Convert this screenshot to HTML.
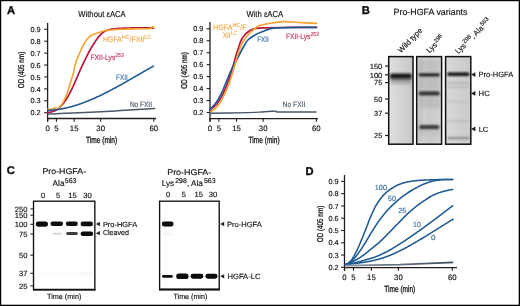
<!DOCTYPE html>
<html><head><meta charset="utf-8"><style>
html,body{margin:0;padding:0;background:#fff;}
svg{display:block;font-family:"Liberation Sans", sans-serif;filter:blur(0.25px);} text{text-rendering:geometricPrecision;stroke-linejoin:round}
</style></head><body>
<svg width="520" height="306" viewBox="0 0 520 306" font-family='"Liberation Sans", sans-serif'>
<rect x="0" y="0" width="520" height="306" fill="#fff"/>
<g opacity="0.999">
<text x="6.90" y="13.98" font-size="11.2" fill="#111" text-anchor="start" font-weight="bold" stroke="#000" stroke-width="0.35">A</text>
<line x1="47.6" y1="22.9" x2="47.6" y2="121.7" stroke="#231f20" stroke-width="1.3"/>
<line x1="44.2" y1="29.299999999999997" x2="47.6" y2="29.299999999999997" stroke="#231f20" stroke-width="1.1"/>
<text x="40.60" y="31.93" font-size="7.3" fill="#111" text-anchor="end" font-weight="normal" stroke="#111" stroke-width="0.15">0.9</text>
<line x1="44.2" y1="41.214285714285694" x2="47.6" y2="41.214285714285694" stroke="#231f20" stroke-width="1.1"/>
<text x="40.60" y="43.84" font-size="7.3" fill="#111" text-anchor="end" font-weight="normal" stroke="#111" stroke-width="0.15">0.8</text>
<line x1="44.2" y1="53.12857142857143" x2="47.6" y2="53.12857142857143" stroke="#231f20" stroke-width="1.1"/>
<text x="40.60" y="55.76" font-size="7.3" fill="#111" text-anchor="end" font-weight="normal" stroke="#111" stroke-width="0.15">0.7</text>
<line x1="44.2" y1="65.04285714285714" x2="47.6" y2="65.04285714285714" stroke="#231f20" stroke-width="1.1"/>
<text x="40.60" y="67.67" font-size="7.3" fill="#111" text-anchor="end" font-weight="normal" stroke="#111" stroke-width="0.15">0.6</text>
<line x1="44.2" y1="76.95714285714286" x2="47.6" y2="76.95714285714286" stroke="#231f20" stroke-width="1.1"/>
<text x="40.60" y="79.59" font-size="7.3" fill="#111" text-anchor="end" font-weight="normal" stroke="#111" stroke-width="0.15">0.5</text>
<line x1="44.2" y1="88.87142857142857" x2="47.6" y2="88.87142857142857" stroke="#231f20" stroke-width="1.1"/>
<text x="40.60" y="91.50" font-size="7.3" fill="#111" text-anchor="end" font-weight="normal" stroke="#111" stroke-width="0.15">0.4</text>
<line x1="44.2" y1="100.78571428571429" x2="47.6" y2="100.78571428571429" stroke="#231f20" stroke-width="1.1"/>
<text x="40.60" y="103.41" font-size="7.3" fill="#111" text-anchor="end" font-weight="normal" stroke="#111" stroke-width="0.15">0.3</text>
<line x1="44.2" y1="112.7" x2="47.6" y2="112.7" stroke="#231f20" stroke-width="1.1"/>
<text x="40.60" y="115.33" font-size="7.3" fill="#111" text-anchor="end" font-weight="normal" stroke="#111" stroke-width="0.15">0.2</text>
<line x1="47.1" y1="118.5" x2="156" y2="118.5" stroke="#231f20" stroke-width="1.3"/>
<line x1="47.6" y1="118.5" x2="47.6" y2="121.7" stroke="#231f20" stroke-width="1.1"/>
<text x="47.60" y="130.71" font-size="7.8" fill="#111" text-anchor="middle" font-weight="normal" stroke="#111" stroke-width="0.15">0</text>
<line x1="56.45" y1="118.5" x2="56.45" y2="121.7" stroke="#231f20" stroke-width="1.1"/>
<text x="56.45" y="130.71" font-size="7.8" fill="#111" text-anchor="middle" font-weight="normal" stroke="#111" stroke-width="0.15">5</text>
<line x1="74.15" y1="118.5" x2="74.15" y2="121.7" stroke="#231f20" stroke-width="1.1"/>
<text x="74.15" y="130.71" font-size="7.8" fill="#111" text-anchor="middle" font-weight="normal" stroke="#111" stroke-width="0.15">15</text>
<line x1="100.7" y1="118.5" x2="100.7" y2="121.7" stroke="#231f20" stroke-width="1.1"/>
<text x="100.70" y="130.71" font-size="7.8" fill="#111" text-anchor="middle" font-weight="normal" stroke="#111" stroke-width="0.15">30</text>
<line x1="153.8" y1="118.5" x2="153.8" y2="121.7" stroke="#231f20" stroke-width="1.1"/>
<text x="153.80" y="130.71" font-size="7.8" fill="#111" text-anchor="middle" font-weight="normal" stroke="#111" stroke-width="0.15">60</text>
<text x="101.60" y="143.04" font-size="9.0" fill="#111" text-anchor="middle" font-weight="normal" textLength="31" lengthAdjust="spacingAndGlyphs" stroke="#111" stroke-width="0.3">Time (min)</text>
<g transform="translate(20.6,70.0) rotate(-90)">
<text x="0.00" y="2.99" font-size="8.3" fill="#111" text-anchor="middle" font-weight="normal" textLength="36.5" lengthAdjust="spacingAndGlyphs" stroke="#111" stroke-width="0.3">OD (405 nm)</text>
</g>
<text x="102.00" y="16.90" font-size="8.6" fill="#111" text-anchor="middle" font-weight="normal" textLength="47.5" lengthAdjust="spacingAndGlyphs"  stroke="#111" stroke-width="0.15">Without εACA</text>
<path d="M47.90,112.40 L48.30,112.39 L48.70,112.37 L49.10,112.33 L49.50,112.28 L49.90,112.22 L50.30,112.15 L50.70,112.07 L51.10,111.97 L51.50,111.87 L51.90,111.76 L52.30,111.64 L52.70,111.52 L53.10,111.39 L53.50,111.26 L53.90,111.12 L54.30,110.98 L54.70,110.84 L55.10,110.68 L55.50,110.50 L55.90,110.28 L56.30,110.04 L56.70,109.78 L57.10,109.49 L57.50,109.18 L57.90,108.86 L58.30,108.52 L58.70,108.17 L59.10,107.81 L59.50,107.44 L59.90,107.06 L60.30,106.69 L60.70,106.31 L61.10,105.91 L61.50,105.50 L61.90,105.06 L62.30,104.61 L62.70,104.13 L63.10,103.65 L63.50,103.14 L63.90,102.62 L64.30,102.09 L64.70,101.55 L65.10,100.99 L65.50,100.42 L65.90,99.84 L66.30,99.25 L66.70,98.64 L67.10,98.00 L67.50,97.34 L67.90,96.65 L68.30,95.94 L68.70,95.22 L69.10,94.47 L69.50,93.72 L69.90,92.95 L70.30,92.17 L70.70,91.39 L71.10,90.60 L71.50,89.80 L71.90,88.97 L72.30,88.12 L72.70,87.26 L73.10,86.38 L73.50,85.49 L73.90,84.59 L74.30,83.68 L74.70,82.77 L75.10,81.85 L75.50,80.94 L75.90,80.03 L76.30,79.12 L76.70,78.19 L77.10,77.25 L77.50,76.31 L77.90,75.36 L78.30,74.42 L78.70,73.47 L79.10,72.54 L79.50,71.62 L79.90,70.72 L80.30,69.84 L80.70,68.97 L81.10,68.10 L81.50,67.25 L81.90,66.40 L82.30,65.56 L82.70,64.72 L83.10,63.89 L83.50,63.06 L83.90,62.24 L84.30,61.42 L84.70,60.59 L85.10,59.77 L85.50,58.94 L85.90,58.11 L86.30,57.29 L86.70,56.46 L87.10,55.65 L87.50,54.84 L87.90,54.04 L88.30,53.25 L88.70,52.49 L89.10,51.73 L89.50,51.00 L89.90,50.28 L90.30,49.57 L90.70,48.86 L91.10,48.16 L91.50,47.47 L91.90,46.78 L92.30,46.11 L92.70,45.44 L93.10,44.79 L93.50,44.15 L93.90,43.51 L94.30,42.89 L94.70,42.28 L95.10,41.69 L95.50,41.11 L95.90,40.54 L96.30,39.98 L96.70,39.44 L97.10,38.89 L97.50,38.36 L97.90,37.84 L98.30,37.33 L98.70,36.83 L99.10,36.35 L99.50,35.88 L99.90,35.43 L100.30,35.00 L100.70,34.60 L101.10,34.21 L101.50,33.82 L101.90,33.44 L102.30,33.07 L102.70,32.72 L103.10,32.38 L103.50,32.08 L103.90,31.80 L104.30,31.56 L104.70,31.35 L105.10,31.17 L105.50,30.99 L105.90,30.81 L106.30,30.65 L106.70,30.49 L107.10,30.34 L107.50,30.20 L107.90,30.06 L108.30,29.93 L108.70,29.81 L109.10,29.70 L109.50,29.60 L109.90,29.50 L110.30,29.41 L110.70,29.33 L111.10,29.26 L111.50,29.20 L111.90,29.14 L112.30,29.09 L112.70,29.04 L113.10,28.98 L113.50,28.94 L113.90,28.89 L114.30,28.84 L114.70,28.80 L115.10,28.75 L115.50,28.71 L115.90,28.67 L116.30,28.64 L116.70,28.60 L117.10,28.56 L117.50,28.53 L117.90,28.50 L118.30,28.47 L118.70,28.44 L119.10,28.41 L119.50,28.38 L119.90,28.36 L120.30,28.33 L120.70,28.31 L121.10,28.29 L121.50,28.27 L121.90,28.25 L122.30,28.23 L122.70,28.21 L123.10,28.20 L123.50,28.18 L123.90,28.17 L124.30,28.15 L124.70,28.14 L125.10,28.12 L125.50,28.11 L125.90,28.10 L126.30,28.08 L126.70,28.07 L127.10,28.06 L127.50,28.05 L127.90,28.03 L128.30,28.02 L128.70,28.01 L129.10,28.00 L129.50,27.99 L129.90,27.98 L130.30,27.98 L130.70,27.97 L131.10,27.96 L131.50,27.95 L131.90,27.94 L132.30,27.94 L132.70,27.93 L133.10,27.92 L133.50,27.92 L133.90,27.91 L134.30,27.90 L134.70,27.90 L135.10,27.89 L135.50,27.89 L135.90,27.88 L136.30,27.88 L136.70,27.87 L137.10,27.87 L137.50,27.86 L137.90,27.86 L138.30,27.85 L138.70,27.85 L139.10,27.84 L139.50,27.84 L139.90,27.84 L140.30,27.83 L140.70,27.83 L141.10,27.82 L141.50,27.82 L141.90,27.82 L142.30,27.82 L142.70,27.81 L143.10,27.81 L143.50,27.81 L143.90,27.81 L144.30,27.80 L144.70,27.80 L145.10,27.80 L145.50,27.80 L145.90,27.80 L146.30,27.80 L146.70,27.80 L147.10,27.81 L147.50,27.81 L147.90,27.82 L148.30,27.83 L148.70,27.84 L149.10,27.86 L149.50,27.88 L149.90,27.89 L150.30,27.91 L150.70,27.93 L151.10,27.95 L151.50,27.97 L151.90,28.00 L152.30,28.02 L152.70,28.04 L153.10,28.06 L153.50,28.09" fill="none" stroke="#b8173f" stroke-width="1.7" stroke-linejoin="round" stroke-linecap="round"/>
<path d="M47.90,108.90 C48.50,108.95 50.35,109.37 51.50,109.20 C52.65,109.03 53.72,107.95 54.80,107.90 C55.88,107.85 56.92,109.37 58.00,108.90 C59.08,108.43 60.20,106.68 61.30,105.10 C62.40,103.52 63.50,101.72 64.60,99.40 C65.70,97.08 66.95,93.93 67.90,91.20 C68.85,88.47 69.48,85.72 70.30,83.00 C71.12,80.28 71.78,78.60 72.80,74.90 C73.82,71.20 74.98,65.05 76.40,60.80 C77.82,56.55 79.67,52.80 81.30,49.40 C82.93,46.00 84.57,42.72 86.20,40.40 C87.83,38.08 89.18,36.72 91.10,35.50 C93.02,34.28 95.38,33.92 97.70,33.10 C100.02,32.28 101.15,31.25 105.00,30.60 C108.85,29.95 114.97,29.50 120.80,29.20 C126.63,28.90 135.13,28.90 140.00,28.80 C144.87,28.70 147.92,28.98 150.00,28.60 C152.08,28.22 151.83,26.60 152.50,26.50 C153.17,26.40 153.75,27.75 154.00,28.00" fill="none" stroke="#f7a12f" stroke-width="1.6" stroke-linejoin="round" stroke-linecap="round" />
<path d="M47.90,110.34 L48.40,110.33 L48.90,110.31 L49.40,110.29 L49.90,110.27 L50.40,110.24 L50.90,110.21 L51.40,110.18 L51.90,110.14 L52.40,110.10 L52.90,110.06 L53.40,110.02 L53.90,109.97 L54.40,109.92 L54.90,109.87 L55.40,109.81 L55.90,109.75 L56.40,109.69 L56.90,109.63 L57.40,109.56 L57.90,109.49 L58.40,109.42 L58.90,109.35 L59.40,109.27 L59.90,109.19 L60.40,109.11 L60.90,109.02 L61.40,108.93 L61.90,108.84 L62.40,108.75 L62.90,108.65 L63.40,108.56 L63.90,108.46 L64.40,108.35 L64.90,108.25 L65.40,108.14 L65.90,108.03 L66.40,107.91 L66.90,107.80 L67.40,107.68 L67.90,107.56 L68.40,107.44 L68.90,107.31 L69.40,107.19 L69.90,107.06 L70.40,106.92 L70.90,106.79 L71.40,106.65 L71.90,106.51 L72.40,106.37 L72.90,106.23 L73.40,106.08 L73.90,105.94 L74.40,105.79 L74.90,105.63 L75.40,105.48 L75.90,105.32 L76.40,105.17 L76.90,105.01 L77.40,104.84 L77.90,104.68 L78.40,104.51 L78.90,104.34 L79.40,104.17 L79.90,104.00 L80.40,103.82 L80.90,103.65 L81.40,103.47 L81.90,103.29 L82.40,103.11 L82.90,102.92 L83.40,102.74 L83.90,102.55 L84.40,102.36 L84.90,102.17 L85.40,101.97 L85.90,101.78 L86.40,101.58 L86.90,101.38 L87.40,101.18 L87.90,100.98 L88.40,100.78 L88.90,100.57 L89.40,100.36 L89.90,100.16 L90.40,99.95 L90.90,99.73 L91.40,99.52 L91.90,99.30 L92.40,99.09 L92.90,98.87 L93.40,98.65 L93.90,98.43 L94.40,98.21 L94.90,97.98 L95.40,97.75 L95.90,97.53 L96.40,97.30 L96.90,97.07 L97.40,96.84 L97.90,96.60 L98.40,96.37 L98.90,96.13 L99.40,95.90 L99.90,95.66 L100.40,95.42 L100.90,95.18 L101.40,94.94 L101.90,94.69 L102.40,94.45 L102.90,94.20 L103.40,93.96 L103.90,93.71 L104.40,93.46 L104.90,93.21 L105.40,92.96 L105.90,92.71 L106.40,92.45 L106.90,92.20 L107.40,91.94 L107.90,91.68 L108.40,91.43 L108.90,91.17 L109.40,90.91 L109.90,90.65 L110.40,90.39 L110.90,90.12 L111.40,89.86 L111.90,89.59 L112.40,89.33 L112.90,89.06 L113.40,88.80 L113.90,88.53 L114.40,88.26 L114.90,87.99 L115.40,87.72 L115.90,87.45 L116.40,87.18 L116.90,86.90 L117.40,86.63 L117.90,86.36 L118.40,86.08 L118.90,85.81 L119.40,85.53 L119.90,85.25 L120.40,84.98 L120.90,84.70 L121.40,84.42 L121.90,84.14 L122.40,83.86 L122.90,83.58 L123.40,83.30 L123.90,83.02 L124.40,82.74 L124.90,82.45 L125.40,82.17 L125.90,81.89 L126.40,81.61 L126.90,81.32 L127.40,81.04 L127.90,80.75 L128.40,80.47 L128.90,80.18 L129.40,79.90 L129.90,79.61 L130.40,79.33 L130.90,79.04 L131.40,78.75 L131.90,78.47 L132.40,78.18 L132.90,77.89 L133.40,77.60 L133.90,77.32 L134.40,77.03 L134.90,76.74 L135.40,76.45 L135.90,76.16 L136.40,75.88 L136.90,75.59 L137.40,75.30 L137.90,75.01 L138.40,74.72 L138.90,74.44 L139.40,74.15 L139.90,73.86 L140.40,73.57 L140.90,73.28 L141.40,73.00 L141.90,72.71 L142.40,72.42 L142.90,72.13 L143.40,71.84 L143.90,71.56 L144.40,71.27 L144.90,70.98 L145.40,70.70 L145.90,70.41 L146.40,70.12 L146.90,69.84 L147.40,69.55 L147.90,69.27 L148.40,68.98 L148.90,68.70 L149.40,68.41 L149.90,68.13 L150.40,67.85 L150.90,67.56 L151.40,67.28 L151.90,67.00 L152.40,66.72 L152.90,66.44 L153.40,66.16" fill="none" stroke="#1f5b95" stroke-width="1.6" stroke-linejoin="round" stroke-linecap="round"/>
<path d="M47.90,113.90 C49.92,113.85 48.82,114.10 60.00,113.60 C71.18,113.10 99.23,111.73 115.00,110.90 C130.77,110.07 148.00,108.98 154.60,108.60" fill="none" stroke="#4a5869" stroke-width="1.5" stroke-linejoin="round" stroke-linecap="round" />
<g transform="translate(103.00,41.91) scale(0.8927,1)"><text x="0" y="0" font-size="7.8" fill="#f6a340" stroke="#f6a340" stroke-width="0.1"><tspan font-size="7.8" dy="0.00">HGFA</tspan><tspan font-size="5.9" dx="0.0" dy="-3.00">HC</tspan><tspan font-size="7.8" dy="3.00">/FXII</tspan><tspan font-size="5.9" dx="0.0" dy="-3.00">LC</tspan></text></g>
<g transform="translate(90.40,59.51) scale(0.8655,1)"><text x="0" y="0" font-size="7.8" fill="#bf2a50" stroke="#bf2a50" stroke-width="0.1"><tspan font-size="7.8" dy="0.00">FXII-Lys</tspan><tspan font-size="5.9" dx="0.0" dy="-3.00">253</tspan></text></g>
<text x="116.00" y="79.56" font-size="7.8" fill="#3a70a8" text-anchor="start" font-weight="normal" textLength="11.8" lengthAdjust="spacingAndGlyphs"  stroke="#3a70a8" stroke-width="0.15">FXII</text>
<text x="129.90" y="106.51" font-size="7.8" fill="#4a586a" text-anchor="start" font-weight="normal" textLength="22.1" lengthAdjust="spacingAndGlyphs"  stroke="#4a586a" stroke-width="0.15">No FXII</text>
<line x1="210" y1="21.9" x2="210" y2="121.8" stroke="#231f20" stroke-width="1.3"/>
<line x1="206.6" y1="28.799999999999997" x2="210" y2="28.799999999999997" stroke="#231f20" stroke-width="1.1"/>
<text x="203.30" y="31.43" font-size="7.3" fill="#111" text-anchor="end" font-weight="normal" stroke="#111" stroke-width="0.15">0.9</text>
<line x1="206.6" y1="40.75714285714284" x2="210" y2="40.75714285714284" stroke="#231f20" stroke-width="1.1"/>
<text x="203.30" y="43.39" font-size="7.3" fill="#111" text-anchor="end" font-weight="normal" stroke="#111" stroke-width="0.15">0.8</text>
<line x1="206.6" y1="52.714285714285715" x2="210" y2="52.714285714285715" stroke="#231f20" stroke-width="1.1"/>
<text x="203.30" y="55.34" font-size="7.3" fill="#111" text-anchor="end" font-weight="normal" stroke="#111" stroke-width="0.15">0.7</text>
<line x1="206.6" y1="64.67142857142858" x2="210" y2="64.67142857142858" stroke="#231f20" stroke-width="1.1"/>
<text x="203.30" y="67.30" font-size="7.3" fill="#111" text-anchor="end" font-weight="normal" stroke="#111" stroke-width="0.15">0.6</text>
<line x1="206.6" y1="76.62857142857143" x2="210" y2="76.62857142857143" stroke="#231f20" stroke-width="1.1"/>
<text x="203.30" y="79.26" font-size="7.3" fill="#111" text-anchor="end" font-weight="normal" stroke="#111" stroke-width="0.15">0.5</text>
<line x1="206.6" y1="88.58571428571429" x2="210" y2="88.58571428571429" stroke="#231f20" stroke-width="1.1"/>
<text x="203.30" y="91.21" font-size="7.3" fill="#111" text-anchor="end" font-weight="normal" stroke="#111" stroke-width="0.15">0.4</text>
<line x1="206.6" y1="100.54285714285714" x2="210" y2="100.54285714285714" stroke="#231f20" stroke-width="1.1"/>
<text x="203.30" y="103.17" font-size="7.3" fill="#111" text-anchor="end" font-weight="normal" stroke="#111" stroke-width="0.15">0.3</text>
<line x1="206.6" y1="112.5" x2="210" y2="112.5" stroke="#231f20" stroke-width="1.1"/>
<text x="203.30" y="115.13" font-size="7.3" fill="#111" text-anchor="end" font-weight="normal" stroke="#111" stroke-width="0.15">0.2</text>
<line x1="209.5" y1="118.6" x2="318" y2="118.6" stroke="#231f20" stroke-width="1.3"/>
<line x1="210.0" y1="118.6" x2="210.0" y2="121.8" stroke="#231f20" stroke-width="1.1"/>
<text x="210.00" y="130.81" font-size="7.8" fill="#111" text-anchor="middle" font-weight="normal" stroke="#111" stroke-width="0.15">0</text>
<line x1="218.85833333333332" y1="118.6" x2="218.85833333333332" y2="121.8" stroke="#231f20" stroke-width="1.1"/>
<text x="218.86" y="130.81" font-size="7.8" fill="#111" text-anchor="middle" font-weight="normal" stroke="#111" stroke-width="0.15">5</text>
<line x1="236.575" y1="118.6" x2="236.575" y2="121.8" stroke="#231f20" stroke-width="1.1"/>
<text x="236.57" y="130.81" font-size="7.8" fill="#111" text-anchor="middle" font-weight="normal" stroke="#111" stroke-width="0.15">15</text>
<line x1="263.15" y1="118.6" x2="263.15" y2="121.8" stroke="#231f20" stroke-width="1.1"/>
<text x="263.15" y="130.81" font-size="7.8" fill="#111" text-anchor="middle" font-weight="normal" stroke="#111" stroke-width="0.15">30</text>
<line x1="316.3" y1="118.6" x2="316.3" y2="121.8" stroke="#231f20" stroke-width="1.1"/>
<text x="316.30" y="130.81" font-size="7.8" fill="#111" text-anchor="middle" font-weight="normal" stroke="#111" stroke-width="0.15">60</text>
<text x="264.10" y="143.04" font-size="9.0" fill="#111" text-anchor="middle" font-weight="normal" textLength="31" lengthAdjust="spacingAndGlyphs" stroke="#111" stroke-width="0.3">Time (min)</text>
<g transform="translate(183.8,70.4) rotate(-90)">
<text x="0.00" y="2.99" font-size="8.3" fill="#111" text-anchor="middle" font-weight="normal" textLength="36.5" lengthAdjust="spacingAndGlyphs" stroke="#111" stroke-width="0.3">OD (405 nm)</text>
</g>
<text x="264.80" y="16.90" font-size="8.6" fill="#111" text-anchor="middle" font-weight="normal" textLength="36.8" lengthAdjust="spacingAndGlyphs"  stroke="#111" stroke-width="0.15">With εACA</text>
<path d="M209.80,110.20 C211.02,109.13 214.97,106.38 217.10,103.80 C219.23,101.22 220.77,98.35 222.60,94.70 C224.43,91.05 226.35,86.68 228.10,81.90 C229.85,77.12 231.77,70.48 233.10,66.00 C234.43,61.52 235.05,58.50 236.10,55.00 C237.15,51.50 238.53,47.50 239.40,45.00 C240.27,42.50 240.43,41.67 241.30,40.00 C242.17,38.33 243.50,36.33 244.60,35.00 C245.70,33.67 246.67,32.92 247.90,32.00 C249.13,31.08 250.65,30.12 252.00,29.50 C253.35,28.88 253.83,28.57 256.00,28.30 C258.17,28.03 259.33,28.05 265.00,27.90 C270.67,27.75 281.42,27.50 290.00,27.40 C298.58,27.30 312.08,27.32 316.50,27.30" fill="none" stroke="#b8173f" stroke-width="1.7" stroke-linejoin="round" stroke-linecap="round" />
<path d="M209.80,109.30 C210.72,108.38 213.47,106.23 215.30,103.80 C217.13,101.37 218.97,98.35 220.80,94.70 C222.63,91.05 224.48,86.17 226.30,81.90 C228.12,77.63 230.17,72.42 231.70,69.10 C233.23,65.78 234.27,64.35 235.50,62.00 C236.73,59.65 237.58,57.83 239.10,55.00 C240.62,52.17 243.13,47.50 244.60,45.00 C246.07,42.50 246.17,41.67 247.90,40.00 C249.63,38.33 252.50,36.42 255.00,35.00 C257.50,33.58 260.27,32.57 262.90,31.50 C265.53,30.43 267.95,29.22 270.80,28.60 C273.65,27.98 275.13,28.00 280.00,27.80 C284.87,27.60 293.92,27.48 300.00,27.40 C306.08,27.32 313.75,27.32 316.50,27.30" fill="none" stroke="#1f5b95" stroke-width="1.7" stroke-linejoin="round" stroke-linecap="round" />
<path d="M210.70,112.00 C211.92,110.95 215.87,108.28 218.00,105.70 C220.13,103.12 221.67,100.17 223.50,96.50 C225.33,92.83 227.18,88.62 229.00,83.70 C230.82,78.78 232.95,71.78 234.40,67.00 C235.85,62.22 236.55,58.67 237.70,55.00 C238.85,51.33 240.25,47.50 241.30,45.00 C242.35,42.50 242.90,41.67 244.00,40.00 C245.10,38.33 246.72,36.33 247.90,35.00 C249.08,33.67 249.92,33.08 251.10,32.00 C252.28,30.92 253.62,29.57 255.00,28.50 C256.38,27.43 257.03,26.43 259.40,25.60 C261.77,24.77 265.27,24.17 269.20,23.50 C273.13,22.83 278.03,21.77 283.00,21.60 C287.97,21.43 293.42,22.20 299.00,22.50 C304.58,22.80 313.58,23.25 316.50,23.40" fill="none" stroke="#f7a12f" stroke-width="1.6" stroke-linejoin="round" stroke-linecap="round" />
<path d="M209.80,113.30 C216.17,113.18 239.30,112.82 248.00,112.60 C256.70,112.38 258.00,112.22 262.00,112.00 C266.00,111.78 269.67,111.43 272.00,111.30 C274.33,111.17 274.67,111.08 276.00,111.20 C277.33,111.32 273.33,111.87 280.00,112.00 C286.67,112.13 310.00,112.00 316.00,112.00" fill="none" stroke="#4a5869" stroke-width="1.4" stroke-linejoin="round" stroke-linecap="round" />
<g transform="translate(213.00,30.11) scale(0.9130,1)"><text x="0" y="0" font-size="7.8" fill="#f6a340" stroke="#f6a340" stroke-width="0.1"><tspan font-size="7.8" dy="0.00">HGFA</tspan><tspan font-size="5.9" dx="0.0" dy="-3.00">HC</tspan><tspan font-size="7.8" dy="3.00">/F</tspan></text></g>
<g transform="translate(222.70,38.01) scale(0.8373,1)"><text x="0" y="0" font-size="7.8" fill="#f6a340" stroke="#f6a340" stroke-width="0.1"><tspan font-size="7.8" dy="0.00">XII</tspan><tspan font-size="5.9" dx="0.0" dy="-3.00">LC</tspan></text></g>
<text x="257.20" y="41.61" font-size="7.8" fill="#3a70a8" text-anchor="start" font-weight="normal" textLength="11.6" lengthAdjust="spacingAndGlyphs"  stroke="#3a70a8" stroke-width="0.15">FXII</text>
<g transform="translate(286.00,39.31) scale(0.8499,1)"><text x="0" y="0" font-size="7.8" fill="#bf2a50" stroke="#bf2a50" stroke-width="0.1"><tspan font-size="7.8" dy="0.00">FXII-Lys</tspan><tspan font-size="5.9" dx="0.0" dy="-3.00">253</tspan></text></g>
<text x="282.60" y="107.01" font-size="7.8" fill="#4a586a" text-anchor="start" font-weight="normal" textLength="22.9" lengthAdjust="spacingAndGlyphs"  stroke="#4a586a" stroke-width="0.15">No FXII</text>
<text x="361.70" y="14.38" font-size="11.2" fill="#111" text-anchor="start" font-weight="bold" stroke="#000" stroke-width="0.35">B</text>
<text x="393.50" y="14.84" font-size="9.0" fill="#111" text-anchor="start" font-weight="normal" textLength="74" lengthAdjust="spacingAndGlyphs"  stroke="#111" stroke-width="0.15">Pro-HGFA variants</text>
<g transform="translate(399.0,51.2) rotate(-45) scale(1,1)">
<text x="0.00" y="2.77" font-size="7.7" fill="#111" text-anchor="start" font-weight="normal" textLength="31.2" lengthAdjust="spacingAndGlyphs"  stroke="#111" stroke-width="0.15">Wild type</text>
</g>
<g transform="translate(427.6,51.6) rotate(-45)">
<g transform="translate(0.00,2.74) scale(1.0000,1)"><text x="0" y="0" font-size="7.6" fill="#111" stroke="#111" stroke-width="0.15"><tspan font-size="7.6" dy="0.00">Lys</tspan><tspan font-size="5.6" dx="0.5" dy="-3.00">298</tspan></text></g>
</g>
<g transform="translate(456.4,52.4) rotate(-45)">
<g transform="translate(0.00,2.74) scale(0.9917,1)"><text x="0" y="0" font-size="7.6" fill="#111" stroke="#111" stroke-width="0.15"><tspan font-size="7.6" dy="0.00">Lys</tspan><tspan font-size="5.8" dx="0.6" dy="-3.00">298</tspan><tspan font-size="7.6" dy="3.00">, Ala</tspan><tspan font-size="5.8" dx="0.6" dy="-3.00">563</tspan></text></g>
</g>
<text x="382.30" y="68.76" font-size="7.4" fill="#111" text-anchor="end" font-weight="normal" textLength="12.6" lengthAdjust="spacingAndGlyphs"  stroke="#111" stroke-width="0.15">150</text>
<line x1="385.0" y1="66.1" x2="388.5" y2="66.1" stroke="#231f20" stroke-width="1.2"/>
<text x="382.30" y="77.51" font-size="7.4" fill="#111" text-anchor="end" font-weight="normal" textLength="12.6" lengthAdjust="spacingAndGlyphs"  stroke="#111" stroke-width="0.15">100</text>
<line x1="385.0" y1="74.85" x2="388.5" y2="74.85" stroke="#231f20" stroke-width="1.2"/>
<text x="382.30" y="85.26" font-size="7.4" fill="#111" text-anchor="end" font-weight="normal" textLength="8.2" lengthAdjust="spacingAndGlyphs"  stroke="#111" stroke-width="0.15">75</text>
<line x1="385.0" y1="82.6" x2="388.5" y2="82.6" stroke="#231f20" stroke-width="1.2"/>
<text x="382.30" y="101.66" font-size="7.4" fill="#111" text-anchor="end" font-weight="normal" textLength="8.2" lengthAdjust="spacingAndGlyphs"  stroke="#111" stroke-width="0.15">50</text>
<line x1="385.0" y1="99" x2="388.5" y2="99" stroke="#231f20" stroke-width="1.2"/>
<text x="382.30" y="115.86" font-size="7.4" fill="#111" text-anchor="end" font-weight="normal" textLength="8.2" lengthAdjust="spacingAndGlyphs"  stroke="#111" stroke-width="0.15">37</text>
<line x1="385.0" y1="113.2" x2="388.5" y2="113.2" stroke="#231f20" stroke-width="1.2"/>
<text x="382.30" y="138.16" font-size="7.4" fill="#111" text-anchor="end" font-weight="normal" textLength="8.2" lengthAdjust="spacingAndGlyphs"  stroke="#111" stroke-width="0.15">25</text>
<line x1="385.0" y1="135.5" x2="388.5" y2="135.5" stroke="#231f20" stroke-width="1.2"/>
<defs><linearGradient id="lg1" x1="0" x2="1" y1="0" y2="0"><stop offset="0" stop-color="#e0e0e0"/><stop offset="0.5" stop-color="#d3d3d3"/><stop offset="1" stop-color="#c8c8c8"/></linearGradient><linearGradient id="lg2" x1="0" x2="1" y1="0" y2="0"><stop offset="0" stop-color="#d6d6d6"/><stop offset="0.5" stop-color="#cacaca"/><stop offset="1" stop-color="#d2d2d2"/></linearGradient><linearGradient id="lg3" x1="0" x2="1" y1="0" y2="0"><stop offset="0" stop-color="#dadada"/><stop offset="0.5" stop-color="#d0d0d0"/><stop offset="1" stop-color="#cbcbcb"/></linearGradient><linearGradient id="smear" x1="0" x2="0" y1="0" y2="1"><stop offset="0" stop-color="#555" stop-opacity="0.9"/><stop offset="1" stop-color="#888" stop-opacity="0"/></linearGradient><filter id="b1" x="-50%" y="-50%" width="200%" height="200%"><feGaussianBlur stdDeviation="0.9"/></filter><filter id="b2" x="-50%" y="-50%" width="200%" height="200%"><feGaussianBlur stdDeviation="1.5"/></filter><filter id="b05" x="-50%" y="-50%" width="200%" height="200%"><feGaussianBlur stdDeviation="0.6"/></filter><filter id="b07" x="-50%" y="-50%" width="200%" height="200%"><feGaussianBlur stdDeviation="0.75"/></filter></defs>
<rect x="388.7" y="56.6" width="24.30000000000001" height="87.6" fill="url(#lg1)"/>
<rect x="416.7" y="56.6" width="24.900000000000034" height="87.6" fill="url(#lg2)"/>
<rect x="445.6" y="56.6" width="25.19999999999999" height="87.6" fill="url(#lg3)"/>
<g filter="url(#b2)"><rect x="390.5" y="77" width="21" height="9.5" fill="url(#smear)"/></g>
<g filter="url(#b1)"><rect x="390.2" y="73.4" width="21.4" height="5" rx="1.5" fill="#141414"/></g>
<g filter="url(#b2)"><rect x="418.5" y="60" width="21.5" height="12" fill="#9a9a9a" opacity="0.25"/><rect x="418.5" y="77" width="21.5" height="12" fill="#9a9a9a" opacity="0.3"/><rect x="418.5" y="96" width="21.5" height="12" fill="#9a9a9a" opacity="0.3"/><rect x="419" y="130" width="21" height="6" fill="#aaa" opacity="0.3"/><rect x="418" y="58" width="4" height="84" fill="#999" opacity="0.25"/></g>
<g filter="url(#b1)"><rect x="418.6" y="73.2" width="21.2" height="3.2" rx="1.4" fill="#1e1e1e"/><rect x="418.6" y="91.2" width="21.2" height="4.4" rx="1.9" fill="#333"/><rect x="419.2" y="125.0" width="20.2" height="4.2" rx="1.9" fill="#3a3a3a"/></g>
<g filter="url(#b1)"><rect x="447.2" y="72.4" width="22.2" height="3.6" rx="1.4" fill="#0a0a0a"/><rect x="447.5" y="82.2" width="22" height="1.4" fill="#aaa"/><rect x="447.5" y="86.2" width="22" height="1.4" fill="#b0b0b0"/><rect x="447.5" y="101" width="22" height="1.2" fill="#bbb"/><rect x="447.5" y="120.5" width="22" height="1.4" fill="#b4b4b4"/><rect x="447.5" y="137.0" width="22" height="2.2" fill="#8a8a8a"/></g>
<rect x="388.7" y="56.6" width="24.30000000000001" height="87.6" fill="none" stroke="#111" stroke-width="1.5"/>
<rect x="416.7" y="56.6" width="24.900000000000034" height="87.6" fill="none" stroke="#111" stroke-width="1.5"/>
<rect x="445.6" y="56.6" width="25.19999999999999" height="87.6" fill="none" stroke="#111" stroke-width="1.5"/>
<path d="M471.0,74.6 L475.4,72.3 L475.4,76.89999999999999 Z" fill="#231f20"/>
<text x="478.60" y="77.09" font-size="7.6" fill="#111" text-anchor="start" font-weight="normal" textLength="34.7" lengthAdjust="spacingAndGlyphs"  stroke="#111" stroke-width="0.15">Pro-HGFA</text>
<path d="M471.0,93.4 L475.4,91.10000000000001 L475.4,95.7 Z" fill="#231f20"/>
<text x="478.60" y="96.09" font-size="7.6" fill="#111" text-anchor="start" font-weight="normal" textLength="11.1" lengthAdjust="spacingAndGlyphs"  stroke="#111" stroke-width="0.15">HC</text>
<path d="M471.0,128.9 L475.4,126.60000000000001 L475.4,131.20000000000002 Z" fill="#231f20"/>
<text x="478.70" y="131.54" font-size="7.6" fill="#111" text-anchor="start" font-weight="normal" textLength="9.6" lengthAdjust="spacingAndGlyphs"  stroke="#111" stroke-width="0.15">LC</text>
<text x="6.80" y="174.43" font-size="11.2" fill="#111" text-anchor="start" font-weight="bold" stroke="#000" stroke-width="0.35">C</text>
<text x="64.25" y="174.30" font-size="8.2" fill="#111" text-anchor="middle" font-weight="normal" textLength="43.7" lengthAdjust="spacingAndGlyphs"  stroke="#111" stroke-width="0.15">Pro-HGFA-</text>
<g transform="translate(52.60,185.80) scale(1.0000,1)"><text x="0" y="0" font-size="8.2" fill="#111" stroke="#111" stroke-width="0.15"><tspan font-size="8.2" dy="0.00">Ala</tspan><tspan font-size="7.0" dx="0.3" dy="-3.30">563</tspan></text></g>
<text x="43.00" y="197.74" font-size="7.6" fill="#111" text-anchor="middle" font-weight="normal"  stroke="#111" stroke-width="0.15">0</text>
<text x="58.00" y="197.74" font-size="7.6" fill="#111" text-anchor="middle" font-weight="normal"  stroke="#111" stroke-width="0.15">5</text>
<text x="72.50" y="197.74" font-size="7.6" fill="#111" text-anchor="middle" font-weight="normal"  stroke="#111" stroke-width="0.15">15</text>
<text x="87.50" y="197.74" font-size="7.6" fill="#111" text-anchor="middle" font-weight="normal"  stroke="#111" stroke-width="0.15">30</text>
<rect x="33.5" y="201.2" width="61.35" height="88.5" fill="#fff" stroke="#111" stroke-width="1.35"/>
<line x1="33" y1="289.7" x2="95.5" y2="289.7" stroke="#111" stroke-width="1.8"/>
<text x="27.40" y="211.64" font-size="7.6" fill="#111" text-anchor="end" font-weight="normal"  stroke="#111" stroke-width="0.15">250</text>
<line x1="30.4" y1="208.9" x2="33.2" y2="208.9" stroke="#231f20" stroke-width="1.1"/>
<text x="27.40" y="217.94" font-size="7.6" fill="#111" text-anchor="end" font-weight="normal"  stroke="#111" stroke-width="0.15">150</text>
<line x1="30.4" y1="215.2" x2="33.2" y2="215.2" stroke="#231f20" stroke-width="1.1"/>
<text x="27.40" y="227.04" font-size="7.6" fill="#111" text-anchor="end" font-weight="normal"  stroke="#111" stroke-width="0.15">100</text>
<line x1="30.4" y1="224.3" x2="33.2" y2="224.3" stroke="#231f20" stroke-width="1.1"/>
<text x="27.40" y="236.74" font-size="7.6" fill="#111" text-anchor="end" font-weight="normal"  stroke="#111" stroke-width="0.15">75</text>
<line x1="30.4" y1="234.0" x2="33.2" y2="234.0" stroke="#231f20" stroke-width="1.1"/>
<text x="27.40" y="257.94" font-size="7.6" fill="#111" text-anchor="end" font-weight="normal"  stroke="#111" stroke-width="0.15">50</text>
<line x1="30.4" y1="255.2" x2="33.2" y2="255.2" stroke="#231f20" stroke-width="1.1"/>
<text x="27.40" y="276.04" font-size="7.6" fill="#111" text-anchor="end" font-weight="normal"  stroke="#111" stroke-width="0.15">37</text>
<line x1="30.4" y1="273.3" x2="33.2" y2="273.3" stroke="#231f20" stroke-width="1.1"/>
<text x="27.40" y="288.64" font-size="7.6" fill="#111" text-anchor="end" font-weight="normal"  stroke="#111" stroke-width="0.15">25</text>
<line x1="30.4" y1="285.9" x2="33.2" y2="285.9" stroke="#231f20" stroke-width="1.1"/>
<g filter="url(#b07)"><rect x="35.8" y="221.4" width="12.2" height="5.3" rx="2.6" fill="#0a0a0a"/><rect x="50.5" y="221.4" width="12.6" height="4.6" rx="2.3" fill="#0e0e0e"/><rect x="65.8" y="221.4" width="12" height="4.6" rx="2.3" fill="#0e0e0e"/><rect x="80.6" y="221.6" width="12.4" height="4.6" rx="2.3" fill="#0e0e0e"/><rect x="52.5" y="232.7" width="9.6" height="1.7" rx="0.85" fill="#d2d2d2"/><rect x="66.2" y="232.0" width="11.6" height="3.0" rx="1.5" fill="#3c3c3c"/><rect x="80.6" y="231.4" width="12.6" height="4.6" rx="2.3" fill="#0a0a0a"/></g>
<g filter="url(#b2)" opacity="0.12"><rect x="39" y="272.8" width="10" height="1.4" fill="#888"/><rect x="54" y="272.8" width="10" height="1.4" fill="#888"/><rect x="68" y="272.8" width="10" height="1.4" fill="#888"/><rect x="80" y="272.8" width="11" height="1.6" fill="#666"/></g>
<path d="M95.9,224.0 L99.9,221.85 L99.9,226.15 Z" fill="#231f20"/>
<text x="102.90" y="226.68" font-size="7.3" fill="#111" text-anchor="start" font-weight="normal" textLength="34.3" lengthAdjust="spacingAndGlyphs"  stroke="#111" stroke-width="0.15">Pro-HGFA</text>
<path d="M95.9,233.2 L99.9,231.04999999999998 L99.9,235.35 Z" fill="#231f20"/>
<text x="102.90" y="235.28" font-size="7.3" fill="#111" text-anchor="start" font-weight="normal" textLength="26.1" lengthAdjust="spacingAndGlyphs"  stroke="#111" stroke-width="0.15">Cleaved</text>
<text x="64.20" y="299.16" font-size="7.4" fill="#111" text-anchor="middle" font-weight="normal" textLength="34.3" lengthAdjust="spacingAndGlyphs"  stroke="#111" stroke-width="0.15">Time (min)</text>
<text x="189.25" y="175.05" font-size="8.2" fill="#111" text-anchor="middle" font-weight="normal" textLength="44.1" lengthAdjust="spacingAndGlyphs"  stroke="#111" stroke-width="0.15">Pro-HGFA-</text>
<g transform="translate(161.70,185.80) scale(1.0000,1)"><text x="0" y="0" font-size="8.2" fill="#111" stroke="#111" stroke-width="0.15"><tspan font-size="8.2" dy="0.00">Lys</tspan><tspan font-size="7.0" dx="1.1" dy="-3.30">298</tspan><tspan font-size="8.2" dy="3.30">, Ala</tspan><tspan font-size="7.0" dx="1.1" dy="-3.30">563</tspan></text></g>
<text x="168.20" y="197.24" font-size="7.6" fill="#111" text-anchor="middle" font-weight="normal"  stroke="#111" stroke-width="0.15">0</text>
<text x="183.80" y="197.24" font-size="7.6" fill="#111" text-anchor="middle" font-weight="normal"  stroke="#111" stroke-width="0.15">5</text>
<text x="198.70" y="197.24" font-size="7.6" fill="#111" text-anchor="middle" font-weight="normal"  stroke="#111" stroke-width="0.15">15</text>
<text x="212.90" y="197.24" font-size="7.6" fill="#111" text-anchor="middle" font-weight="normal"  stroke="#111" stroke-width="0.15">30</text>
<rect x="159.6" y="201.2" width="59.6" height="88.3" fill="#fff" stroke="#111" stroke-width="1.35"/>
<line x1="159" y1="289.5" x2="219.8" y2="289.5" stroke="#111" stroke-width="1.8"/>
<g filter="url(#b07)"><rect x="161.8" y="221.6" width="11.8" height="4.8" rx="2.3" fill="#0a0a0a"/><rect x="162" y="275.1" width="10.8" height="2.6" rx="1.3" fill="#111"/><rect x="176.3" y="273.6" width="12.2" height="5.4" rx="2.6" fill="#080808"/><rect x="190.6" y="273.8" width="12.7" height="4.9" rx="2.4" fill="#080808"/><rect x="205.4" y="273.8" width="12.1" height="4.9" rx="2.4" fill="#080808"/></g>
<g filter="url(#b2)" opacity="0.2"><rect x="163" y="233.2" width="9" height="1.6" fill="#777"/></g>
<path d="M220.2,224 L224.2,221.85 L224.2,226.15 Z" fill="#231f20"/>
<text x="226.90" y="226.70" font-size="7.5" fill="#111" text-anchor="start" font-weight="normal" textLength="35" lengthAdjust="spacingAndGlyphs"  stroke="#111" stroke-width="0.15">Pro-HGFA</text>
<path d="M220.2,276.3 L224.2,274.15000000000003 L224.2,278.45 Z" fill="#231f20"/>
<text x="227.50" y="279.00" font-size="7.5" fill="#111" text-anchor="start" font-weight="normal" textLength="32.9" lengthAdjust="spacingAndGlyphs"  stroke="#111" stroke-width="0.15">HGFA-LC</text>
<text x="190.40" y="299.41" font-size="7.4" fill="#111" text-anchor="middle" font-weight="normal" textLength="33.8" lengthAdjust="spacingAndGlyphs"  stroke="#111" stroke-width="0.15">Time (min)</text>
<text x="305.60" y="175.23" font-size="11.2" fill="#111" text-anchor="start" font-weight="bold" stroke="#000" stroke-width="0.35">D</text>
<line x1="344.5" y1="174.9" x2="344.5" y2="270.8" stroke="#231f20" stroke-width="1.3"/>
<line x1="341.1" y1="181.4" x2="344.5" y2="181.4" stroke="#231f20" stroke-width="1.1"/>
<text x="338.60" y="184.03" font-size="7.3" fill="#111" text-anchor="end" font-weight="normal" stroke="#111" stroke-width="0.15">0.9</text>
<line x1="341.1" y1="193.67142857142858" x2="344.5" y2="193.67142857142858" stroke="#231f20" stroke-width="1.1"/>
<text x="338.60" y="196.30" font-size="7.3" fill="#111" text-anchor="end" font-weight="normal" stroke="#111" stroke-width="0.15">0.8</text>
<line x1="341.1" y1="205.94285714285715" x2="344.5" y2="205.94285714285715" stroke="#231f20" stroke-width="1.1"/>
<text x="338.60" y="208.57" font-size="7.3" fill="#111" text-anchor="end" font-weight="normal" stroke="#111" stroke-width="0.15">0.7</text>
<line x1="341.1" y1="218.21428571428572" x2="344.5" y2="218.21428571428572" stroke="#231f20" stroke-width="1.1"/>
<text x="338.60" y="220.84" font-size="7.3" fill="#111" text-anchor="end" font-weight="normal" stroke="#111" stroke-width="0.15">0.6</text>
<line x1="341.1" y1="230.4857142857143" x2="344.5" y2="230.4857142857143" stroke="#231f20" stroke-width="1.1"/>
<text x="338.60" y="233.11" font-size="7.3" fill="#111" text-anchor="end" font-weight="normal" stroke="#111" stroke-width="0.15">0.5</text>
<line x1="341.1" y1="242.75714285714287" x2="344.5" y2="242.75714285714287" stroke="#231f20" stroke-width="1.1"/>
<text x="338.60" y="245.39" font-size="7.3" fill="#111" text-anchor="end" font-weight="normal" stroke="#111" stroke-width="0.15">0.4</text>
<line x1="341.1" y1="255.02857142857144" x2="344.5" y2="255.02857142857144" stroke="#231f20" stroke-width="1.1"/>
<text x="338.60" y="257.66" font-size="7.3" fill="#111" text-anchor="end" font-weight="normal" stroke="#111" stroke-width="0.15">0.3</text>
<line x1="341.1" y1="267.3" x2="344.5" y2="267.3" stroke="#231f20" stroke-width="1.1"/>
<text x="338.60" y="269.93" font-size="7.3" fill="#111" text-anchor="end" font-weight="normal" stroke="#111" stroke-width="0.15">0.2</text>
<line x1="344.0" y1="267.6" x2="457" y2="267.6" stroke="#231f20" stroke-width="1.3"/>
<line x1="344.5" y1="267.6" x2="344.5" y2="270.8" stroke="#231f20" stroke-width="1.1"/>
<text x="344.50" y="279.81" font-size="7.8" fill="#111" text-anchor="middle" font-weight="normal" stroke="#111" stroke-width="0.15">0</text>
<line x1="353.48333333333335" y1="267.6" x2="353.48333333333335" y2="270.8" stroke="#231f20" stroke-width="1.1"/>
<text x="353.48" y="279.81" font-size="7.8" fill="#111" text-anchor="middle" font-weight="normal" stroke="#111" stroke-width="0.15">5</text>
<line x1="371.45" y1="267.6" x2="371.45" y2="270.8" stroke="#231f20" stroke-width="1.1"/>
<text x="371.45" y="279.81" font-size="7.8" fill="#111" text-anchor="middle" font-weight="normal" stroke="#111" stroke-width="0.15">15</text>
<line x1="398.4" y1="267.6" x2="398.4" y2="270.8" stroke="#231f20" stroke-width="1.1"/>
<text x="398.40" y="279.81" font-size="7.8" fill="#111" text-anchor="middle" font-weight="normal" stroke="#111" stroke-width="0.15">30</text>
<line x1="452.3" y1="267.6" x2="452.3" y2="270.8" stroke="#231f20" stroke-width="1.1"/>
<text x="452.30" y="279.81" font-size="7.8" fill="#111" text-anchor="middle" font-weight="normal" stroke="#111" stroke-width="0.15">60</text>
<text x="399.80" y="292.14" font-size="9.0" fill="#111" text-anchor="middle" font-weight="normal" textLength="31" lengthAdjust="spacingAndGlyphs" stroke="#111" stroke-width="0.3">Time (min)</text>
<g transform="translate(319.9,224.0) rotate(-90)">
<text x="0.00" y="2.99" font-size="8.3" fill="#111" text-anchor="middle" font-weight="normal" textLength="36.5" lengthAdjust="spacingAndGlyphs" stroke="#111" stroke-width="0.3">OD (405 nm)</text>
</g>
<path d="M345.50,264.50 L345.90,264.38 L346.30,264.23 L346.70,264.04 L347.10,263.83 L347.50,263.58 L347.90,263.31 L348.30,263.02 L348.70,262.70 L349.10,262.37 L349.50,262.03 L349.90,261.67 L350.30,261.31 L350.70,260.90 L351.10,260.43 L351.50,259.92 L351.90,259.36 L352.30,258.77 L352.70,258.14 L353.10,257.48 L353.50,256.80 L353.90,256.09 L354.30,255.38 L354.70,254.65 L355.10,253.92 L355.50,253.18 L355.90,252.44 L356.30,251.68 L356.70,250.88 L357.10,250.06 L357.50,249.21 L357.90,248.34 L358.30,247.45 L358.70,246.55 L359.10,245.63 L359.50,244.69 L359.90,243.75 L360.30,242.80 L360.70,241.83 L361.10,240.87 L361.50,239.90 L361.90,238.93 L362.30,237.96 L362.70,237.00 L363.10,236.02 L363.50,235.02 L363.90,234.01 L364.30,232.98 L364.70,231.96 L365.10,230.95 L365.50,229.93 L365.90,228.89 L366.30,227.85 L366.70,226.80 L367.10,225.75 L367.50,224.70 L367.90,223.66 L368.30,222.62 L368.70,221.59 L369.10,220.57 L369.50,219.57 L369.90,218.58 L370.30,217.62 L370.70,216.68 L371.10,215.77 L371.50,214.87 L371.90,213.98 L372.30,213.09 L372.70,212.20 L373.10,211.33 L373.50,210.47 L373.90,209.63 L374.30,208.81 L374.70,208.00 L375.10,207.22 L375.50,206.46 L375.90,205.73 L376.30,205.03 L376.70,204.36 L377.10,203.72 L377.50,203.09 L377.90,202.47 L378.30,201.87 L378.70,201.27 L379.10,200.69 L379.50,200.12 L379.90,199.56 L380.30,199.01 L380.70,198.48 L381.10,197.96 L381.50,197.45 L381.90,196.96 L382.30,196.48 L382.70,196.01 L383.10,195.56 L383.50,195.13 L383.90,194.70 L384.30,194.30 L384.70,193.90 L385.10,193.52 L385.50,193.15 L385.90,192.79 L386.30,192.43 L386.70,192.09 L387.10,191.75 L387.50,191.42 L387.90,191.10 L388.30,190.78 L388.70,190.48 L389.10,190.18 L389.50,189.88 L389.90,189.60 L390.30,189.32 L390.70,189.05 L391.10,188.78 L391.50,188.52 L391.90,188.27 L392.30,188.02 L392.70,187.78 L393.10,187.54 L393.50,187.30 L393.90,187.07 L394.30,186.84 L394.70,186.62 L395.10,186.40 L395.50,186.18 L395.90,185.97 L396.30,185.76 L396.70,185.56 L397.10,185.36 L397.50,185.17 L397.90,184.99 L398.30,184.81 L398.70,184.63 L399.10,184.46 L399.50,184.30 L399.90,184.15 L400.30,184.00 L400.70,183.86 L401.10,183.72 L401.50,183.58 L401.90,183.45 L402.30,183.31 L402.70,183.19 L403.10,183.06 L403.50,182.94 L403.90,182.82 L404.30,182.71 L404.70,182.59 L405.10,182.49 L405.50,182.38 L405.90,182.28 L406.30,182.18 L406.70,182.09 L407.10,182.00 L407.50,181.92 L407.90,181.84 L408.30,181.76 L408.70,181.69 L409.10,181.62 L409.50,181.55 L409.90,181.48 L410.30,181.42 L410.70,181.36 L411.10,181.29 L411.50,181.24 L411.90,181.18 L412.30,181.13 L412.70,181.07 L413.10,181.02 L413.50,180.97 L413.90,180.92 L414.30,180.88 L414.70,180.83 L415.10,180.79 L415.50,180.75 L415.90,180.70 L416.30,180.66 L416.70,180.62 L417.10,180.58 L417.50,180.55 L417.90,180.51 L418.30,180.48 L418.70,180.44 L419.10,180.41 L419.50,180.38 L419.90,180.35 L420.30,180.32 L420.70,180.30 L421.10,180.28 L421.50,180.25 L421.90,180.23 L422.30,180.21 L422.70,180.19 L423.10,180.17 L423.50,180.15 L423.90,180.13 L424.30,180.11 L424.70,180.09 L425.10,180.07 L425.50,180.06 L425.90,180.04 L426.30,180.02 L426.70,180.01 L427.10,179.99 L427.50,179.97 L427.90,179.96 L428.30,179.94 L428.70,179.93 L429.10,179.91 L429.50,179.90 L429.90,179.89 L430.30,179.87 L430.70,179.86 L431.10,179.85 L431.50,179.83 L431.90,179.82 L432.30,179.81 L432.70,179.79 L433.10,179.78 L433.50,179.77 L433.90,179.76 L434.30,179.74 L434.70,179.73 L435.10,179.72 L435.50,179.71 L435.90,179.69 L436.30,179.68 L436.70,179.67 L437.10,179.66 L437.50,179.65 L437.90,179.64 L438.30,179.63 L438.70,179.62 L439.10,179.61 L439.50,179.60 L439.90,179.59 L440.30,179.58 L440.70,179.57 L441.10,179.56 L441.50,179.55 L441.90,179.54 L442.30,179.53 L442.70,179.53 L443.10,179.52 L443.50,179.51 L443.90,179.50 L444.30,179.50 L444.70,179.49 L445.10,179.49 L445.50,179.48 L445.90,179.47 L446.30,179.47 L446.70,179.46 L447.10,179.46 L447.50,179.45 L447.90,179.45 L448.30,179.44 L448.70,179.44 L449.10,179.43 L449.50,179.43 L449.90,179.42 L450.30,179.42 L450.70,179.42 L451.10,179.41 L451.50,179.41 L451.90,179.41 L452.30,179.40 L452.70,179.40" fill="none" stroke="#1d5a93" stroke-width="1.55" stroke-linejoin="round" stroke-linecap="round"/>
<path d="M345.50,264.50 L345.90,264.37 L346.30,264.23 L346.70,264.06 L347.10,263.88 L347.50,263.69 L347.90,263.48 L348.30,263.26 L348.70,263.02 L349.10,262.78 L349.50,262.52 L349.90,262.25 L350.30,261.97 L350.70,261.68 L351.10,261.39 L351.50,261.09 L351.90,260.78 L352.30,260.46 L352.70,260.11 L353.10,259.73 L353.50,259.34 L353.90,258.91 L354.30,258.47 L354.70,258.01 L355.10,257.53 L355.50,257.03 L355.90,256.52 L356.30,256.00 L356.70,255.47 L357.10,254.93 L357.50,254.38 L357.90,253.83 L358.30,253.27 L358.70,252.71 L359.10,252.15 L359.50,251.59 L359.90,251.04 L360.30,250.48 L360.70,249.91 L361.10,249.33 L361.50,248.73 L361.90,248.12 L362.30,247.50 L362.70,246.88 L363.10,246.25 L363.50,245.61 L363.90,244.97 L364.30,244.33 L364.70,243.68 L365.10,243.04 L365.50,242.39 L365.90,241.73 L366.30,241.06 L366.70,240.38 L367.10,239.70 L367.50,239.02 L367.90,238.34 L368.30,237.66 L368.70,236.99 L369.10,236.32 L369.50,235.65 L369.90,235.00 L370.30,234.35 L370.70,233.70 L371.10,233.05 L371.50,232.41 L371.90,231.76 L372.30,231.11 L372.70,230.47 L373.10,229.82 L373.50,229.18 L373.90,228.55 L374.30,227.91 L374.70,227.28 L375.10,226.66 L375.50,226.03 L375.90,225.42 L376.30,224.81 L376.70,224.21 L377.10,223.61 L377.50,223.02 L377.90,222.44 L378.30,221.87 L378.70,221.30 L379.10,220.74 L379.50,220.19 L379.90,219.64 L380.30,219.09 L380.70,218.55 L381.10,218.01 L381.50,217.48 L381.90,216.95 L382.30,216.43 L382.70,215.91 L383.10,215.40 L383.50,214.89 L383.90,214.39 L384.30,213.90 L384.70,213.41 L385.10,212.94 L385.50,212.46 L385.90,212.00 L386.30,211.54 L386.70,211.09 L387.10,210.64 L387.50,210.21 L387.90,209.77 L388.30,209.35 L388.70,208.93 L389.10,208.51 L389.50,208.10 L389.90,207.69 L390.30,207.29 L390.70,206.89 L391.10,206.50 L391.50,206.11 L391.90,205.73 L392.30,205.35 L392.70,204.97 L393.10,204.60 L393.50,204.22 L393.90,203.86 L394.30,203.49 L394.70,203.13 L395.10,202.77 L395.50,202.41 L395.90,202.05 L396.30,201.70 L396.70,201.34 L397.10,200.99 L397.50,200.65 L397.90,200.30 L398.30,199.96 L398.70,199.62 L399.10,199.28 L399.50,198.95 L399.90,198.62 L400.30,198.29 L400.70,197.97 L401.10,197.65 L401.50,197.33 L401.90,197.02 L402.30,196.71 L402.70,196.41 L403.10,196.11 L403.50,195.81 L403.90,195.52 L404.30,195.23 L404.70,194.94 L405.10,194.66 L405.50,194.38 L405.90,194.10 L406.30,193.83 L406.70,193.56 L407.10,193.29 L407.50,193.02 L407.90,192.76 L408.30,192.50 L408.70,192.24 L409.10,191.98 L409.50,191.73 L409.90,191.48 L410.30,191.23 L410.70,190.98 L411.10,190.74 L411.50,190.50 L411.90,190.26 L412.30,190.02 L412.70,189.79 L413.10,189.56 L413.50,189.33 L413.90,189.10 L414.30,188.88 L414.70,188.66 L415.10,188.43 L415.50,188.21 L415.90,188.00 L416.30,187.78 L416.70,187.56 L417.10,187.34 L417.50,187.13 L417.90,186.92 L418.30,186.71 L418.70,186.50 L419.10,186.29 L419.50,186.09 L419.90,185.89 L420.30,185.69 L420.70,185.49 L421.10,185.30 L421.50,185.11 L421.90,184.93 L422.30,184.75 L422.70,184.57 L423.10,184.40 L423.50,184.23 L423.90,184.07 L424.30,183.91 L424.70,183.76 L425.10,183.61 L425.50,183.46 L425.90,183.31 L426.30,183.17 L426.70,183.02 L427.10,182.87 L427.50,182.73 L427.90,182.59 L428.30,182.45 L428.70,182.32 L429.10,182.18 L429.50,182.05 L429.90,181.93 L430.30,181.80 L430.70,181.68 L431.10,181.57 L431.50,181.46 L431.90,181.35 L432.30,181.25 L432.70,181.15 L433.10,181.06 L433.50,180.97 L433.90,180.89 L434.30,180.82 L434.70,180.75 L435.10,180.68 L435.50,180.61 L435.90,180.54 L436.30,180.47 L436.70,180.41 L437.10,180.34 L437.50,180.28 L437.90,180.21 L438.30,180.15 L438.70,180.09 L439.10,180.04 L439.50,179.98 L439.90,179.93 L440.30,179.88 L440.70,179.84 L441.10,179.80 L441.50,179.76 L441.90,179.72 L442.30,179.69 L442.70,179.66 L443.10,179.64 L443.50,179.62 L443.90,179.61 L444.30,179.60 L444.70,179.59 L445.10,179.58 L445.50,179.57 L445.90,179.57 L446.30,179.56 L446.70,179.55 L447.10,179.55 L447.50,179.54 L447.90,179.54 L448.30,179.53 L448.70,179.53 L449.10,179.52 L449.50,179.52 L449.90,179.51 L450.30,179.51 L450.70,179.51 L451.10,179.51 L451.50,179.50 L451.90,179.50 L452.30,179.50 L452.70,179.50" fill="none" stroke="#1d5a93" stroke-width="1.55" stroke-linejoin="round" stroke-linecap="round"/>
<path d="M345.50,264.50 L345.90,264.37 L346.30,264.24 L346.70,264.10 L347.10,263.96 L347.50,263.82 L347.90,263.67 L348.30,263.51 L348.70,263.36 L349.10,263.20 L349.50,263.03 L349.90,262.86 L350.30,262.69 L350.70,262.51 L351.10,262.33 L351.50,262.15 L351.90,261.96 L352.30,261.78 L352.70,261.58 L353.10,261.39 L353.50,261.19 L353.90,260.99 L354.30,260.79 L354.70,260.58 L355.10,260.38 L355.50,260.17 L355.90,259.96 L356.30,259.74 L356.70,259.53 L357.10,259.31 L357.50,259.09 L357.90,258.86 L358.30,258.63 L358.70,258.39 L359.10,258.14 L359.50,257.89 L359.90,257.63 L360.30,257.37 L360.70,257.10 L361.10,256.82 L361.50,256.55 L361.90,256.27 L362.30,255.98 L362.70,255.69 L363.10,255.40 L363.50,255.11 L363.90,254.82 L364.30,254.52 L364.70,254.22 L365.10,253.93 L365.50,253.62 L365.90,253.31 L366.30,252.99 L366.70,252.67 L367.10,252.34 L367.50,252.00 L367.90,251.67 L368.30,251.33 L368.70,251.00 L369.10,250.66 L369.50,250.33 L369.90,250.00 L370.30,249.67 L370.70,249.35 L371.10,249.03 L371.50,248.70 L371.90,248.38 L372.30,248.06 L372.70,247.74 L373.10,247.42 L373.50,247.10 L373.90,246.78 L374.30,246.46 L374.70,246.14 L375.10,245.82 L375.50,245.49 L375.90,245.17 L376.30,244.84 L376.70,244.51 L377.10,244.18 L377.50,243.84 L377.90,243.50 L378.30,243.16 L378.70,242.81 L379.10,242.47 L379.50,242.11 L379.90,241.75 L380.30,241.38 L380.70,241.01 L381.10,240.63 L381.50,240.25 L381.90,239.87 L382.30,239.48 L382.70,239.09 L383.10,238.70 L383.50,238.31 L383.90,237.91 L384.30,237.51 L384.70,237.11 L385.10,236.71 L385.50,236.30 L385.90,235.89 L386.30,235.48 L386.70,235.07 L387.10,234.66 L387.50,234.25 L387.90,233.83 L388.30,233.42 L388.70,233.00 L389.10,232.59 L389.50,232.17 L389.90,231.76 L390.30,231.35 L390.70,230.93 L391.10,230.52 L391.50,230.11 L391.90,229.70 L392.30,229.29 L392.70,228.89 L393.10,228.48 L393.50,228.08 L393.90,227.67 L394.30,227.26 L394.70,226.86 L395.10,226.45 L395.50,226.05 L395.90,225.64 L396.30,225.24 L396.70,224.83 L397.10,224.42 L397.50,224.02 L397.90,223.61 L398.30,223.20 L398.70,222.79 L399.10,222.37 L399.50,221.96 L399.90,221.54 L400.30,221.12 L400.70,220.70 L401.10,220.28 L401.50,219.86 L401.90,219.44 L402.30,219.02 L402.70,218.61 L403.10,218.19 L403.50,217.79 L403.90,217.38 L404.30,216.98 L404.70,216.59 L405.10,216.20 L405.50,215.82 L405.90,215.44 L406.30,215.05 L406.70,214.67 L407.10,214.30 L407.50,213.92 L407.90,213.54 L408.30,213.17 L408.70,212.80 L409.10,212.43 L409.50,212.07 L409.90,211.70 L410.30,211.34 L410.70,210.98 L411.10,210.63 L411.50,210.28 L411.90,209.93 L412.30,209.58 L412.70,209.24 L413.10,208.90 L413.50,208.56 L413.90,208.23 L414.30,207.90 L414.70,207.58 L415.10,207.26 L415.50,206.94 L415.90,206.63 L416.30,206.32 L416.70,206.01 L417.10,205.70 L417.50,205.39 L417.90,205.09 L418.30,204.79 L418.70,204.50 L419.10,204.20 L419.50,203.91 L419.90,203.62 L420.30,203.33 L420.70,203.05 L421.10,202.77 L421.50,202.49 L421.90,202.21 L422.30,201.94 L422.70,201.66 L423.10,201.39 L423.50,201.13 L423.90,200.86 L424.30,200.60 L424.70,200.33 L425.10,200.07 L425.50,199.81 L425.90,199.55 L426.30,199.29 L426.70,199.03 L427.10,198.76 L427.50,198.50 L427.90,198.25 L428.30,197.99 L428.70,197.74 L429.10,197.49 L429.50,197.24 L429.90,196.99 L430.30,196.75 L430.70,196.52 L431.10,196.28 L431.50,196.06 L431.90,195.84 L432.30,195.62 L432.70,195.41 L433.10,195.21 L433.50,195.01 L433.90,194.82 L434.30,194.64 L434.70,194.47 L435.10,194.30 L435.50,194.13 L435.90,193.96 L436.30,193.80 L436.70,193.64 L437.10,193.49 L437.50,193.33 L437.90,193.18 L438.30,193.03 L438.70,192.89 L439.10,192.75 L439.50,192.61 L439.90,192.47 L440.30,192.34 L440.70,192.21 L441.10,192.08 L441.50,191.96 L441.90,191.84 L442.30,191.72 L442.70,191.61 L443.10,191.49 L443.50,191.38 L443.90,191.28 L444.30,191.17 L444.70,191.07 L445.10,190.97 L445.50,190.87 L445.90,190.78 L446.30,190.68 L446.70,190.59 L447.10,190.50 L447.50,190.41 L447.90,190.32 L448.30,190.23 L448.70,190.15 L449.10,190.07 L449.50,189.99 L449.90,189.91 L450.30,189.84 L450.70,189.76 L451.10,189.69 L451.50,189.63 L451.90,189.56 L452.30,189.50 L452.70,189.44" fill="none" stroke="#1d5a93" stroke-width="1.55" stroke-linejoin="round" stroke-linecap="round"/>
<path d="M345.50,264.50 L345.90,264.44 L346.30,264.38 L346.70,264.32 L347.10,264.26 L347.50,264.20 L347.90,264.13 L348.30,264.06 L348.70,263.99 L349.10,263.92 L349.50,263.85 L349.90,263.78 L350.30,263.70 L350.70,263.63 L351.10,263.55 L351.50,263.47 L351.90,263.39 L352.30,263.31 L352.70,263.23 L353.10,263.14 L353.50,263.06 L353.90,262.97 L354.30,262.88 L354.70,262.79 L355.10,262.71 L355.50,262.62 L355.90,262.52 L356.30,262.43 L356.70,262.34 L357.10,262.25 L357.50,262.15 L357.90,262.05 L358.30,261.95 L358.70,261.85 L359.10,261.74 L359.50,261.63 L359.90,261.52 L360.30,261.40 L360.70,261.28 L361.10,261.17 L361.50,261.05 L361.90,260.93 L362.30,260.80 L362.70,260.68 L363.10,260.56 L363.50,260.44 L363.90,260.32 L364.30,260.20 L364.70,260.09 L365.10,259.97 L365.50,259.86 L365.90,259.75 L366.30,259.64 L366.70,259.53 L367.10,259.42 L367.50,259.31 L367.90,259.20 L368.30,259.09 L368.70,258.98 L369.10,258.88 L369.50,258.77 L369.90,258.66 L370.30,258.54 L370.70,258.43 L371.10,258.32 L371.50,258.20 L371.90,258.08 L372.30,257.96 L372.70,257.83 L373.10,257.70 L373.50,257.57 L373.90,257.43 L374.30,257.30 L374.70,257.15 L375.10,257.01 L375.50,256.86 L375.90,256.71 L376.30,256.55 L376.70,256.39 L377.10,256.23 L377.50,256.07 L377.90,255.90 L378.30,255.73 L378.70,255.56 L379.10,255.39 L379.50,255.21 L379.90,255.04 L380.30,254.85 L380.70,254.67 L381.10,254.49 L381.50,254.30 L381.90,254.11 L382.30,253.92 L382.70,253.73 L383.10,253.54 L383.50,253.35 L383.90,253.15 L384.30,252.95 L384.70,252.76 L385.10,252.56 L385.50,252.36 L385.90,252.15 L386.30,251.95 L386.70,251.75 L387.10,251.54 L387.50,251.33 L387.90,251.12 L388.30,250.91 L388.70,250.69 L389.10,250.47 L389.50,250.25 L389.90,250.02 L390.30,249.79 L390.70,249.56 L391.10,249.33 L391.50,249.10 L391.90,248.86 L392.30,248.62 L392.70,248.38 L393.10,248.14 L393.50,247.90 L393.90,247.65 L394.30,247.41 L394.70,247.16 L395.10,246.91 L395.50,246.66 L395.90,246.41 L396.30,246.16 L396.70,245.91 L397.10,245.66 L397.50,245.41 L397.90,245.16 L398.30,244.90 L398.70,244.65 L399.10,244.40 L399.50,244.14 L399.90,243.89 L400.30,243.64 L400.70,243.39 L401.10,243.14 L401.50,242.88 L401.90,242.63 L402.30,242.37 L402.70,242.11 L403.10,241.85 L403.50,241.59 L403.90,241.33 L404.30,241.07 L404.70,240.80 L405.10,240.53 L405.50,240.27 L405.90,240.00 L406.30,239.73 L406.70,239.46 L407.10,239.19 L407.50,238.91 L407.90,238.64 L408.30,238.36 L408.70,238.09 L409.10,237.81 L409.50,237.54 L409.90,237.26 L410.30,236.98 L410.70,236.71 L411.10,236.43 L411.50,236.15 L411.90,235.87 L412.30,235.59 L412.70,235.31 L413.10,235.03 L413.50,234.75 L413.90,234.47 L414.30,234.19 L414.70,233.91 L415.10,233.63 L415.50,233.35 L415.90,233.07 L416.30,232.79 L416.70,232.51 L417.10,232.23 L417.50,231.95 L417.90,231.66 L418.30,231.38 L418.70,231.10 L419.10,230.82 L419.50,230.54 L419.90,230.25 L420.30,229.97 L420.70,229.68 L421.10,229.40 L421.50,229.11 L421.90,228.83 L422.30,228.54 L422.70,228.26 L423.10,227.97 L423.50,227.68 L423.90,227.39 L424.30,227.11 L424.70,226.82 L425.10,226.53 L425.50,226.24 L425.90,225.95 L426.30,225.65 L426.70,225.36 L427.10,225.07 L427.50,224.78 L427.90,224.48 L428.30,224.19 L428.70,223.89 L429.10,223.60 L429.50,223.30 L429.90,223.01 L430.30,222.71 L430.70,222.41 L431.10,222.11 L431.50,221.82 L431.90,221.52 L432.30,221.22 L432.70,220.92 L433.10,220.62 L433.50,220.32 L433.90,220.02 L434.30,219.72 L434.70,219.42 L435.10,219.12 L435.50,218.82 L435.90,218.52 L436.30,218.22 L436.70,217.92 L437.10,217.62 L437.50,217.31 L437.90,217.01 L438.30,216.71 L438.70,216.40 L439.10,216.10 L439.50,215.80 L439.90,215.49 L440.30,215.19 L440.70,214.88 L441.10,214.58 L441.50,214.27 L441.90,213.96 L442.30,213.66 L442.70,213.35 L443.10,213.05 L443.50,212.74 L443.90,212.44 L444.30,212.13 L444.70,211.83 L445.10,211.52 L445.50,211.22 L445.90,210.91 L446.30,210.61 L446.70,210.31 L447.10,210.00 L447.50,209.70 L447.90,209.39 L448.30,209.09 L448.70,208.78 L449.10,208.48 L449.50,208.17 L449.90,207.87 L450.30,207.56 L450.70,207.26 L451.10,206.95 L451.50,206.65 L451.90,206.34 L452.30,206.03 L452.70,205.73" fill="none" stroke="#1d5a93" stroke-width="1.55" stroke-linejoin="round" stroke-linecap="round"/>
<path d="M345.50,264.50 L345.90,264.46 L346.30,264.43 L346.70,264.39 L347.10,264.35 L347.50,264.31 L347.90,264.27 L348.30,264.23 L348.70,264.19 L349.10,264.15 L349.50,264.11 L349.90,264.07 L350.30,264.02 L350.70,263.98 L351.10,263.94 L351.50,263.89 L351.90,263.85 L352.30,263.80 L352.70,263.75 L353.10,263.71 L353.50,263.66 L353.90,263.61 L354.30,263.57 L354.70,263.52 L355.10,263.47 L355.50,263.42 L355.90,263.37 L356.30,263.32 L356.70,263.27 L357.10,263.23 L357.50,263.17 L357.90,263.12 L358.30,263.07 L358.70,263.02 L359.10,262.97 L359.50,262.91 L359.90,262.86 L360.30,262.80 L360.70,262.75 L361.10,262.69 L361.50,262.64 L361.90,262.58 L362.30,262.52 L362.70,262.46 L363.10,262.40 L363.50,262.34 L363.90,262.28 L364.30,262.21 L364.70,262.15 L365.10,262.08 L365.50,262.02 L365.90,261.95 L366.30,261.89 L366.70,261.82 L367.10,261.75 L367.50,261.68 L367.90,261.61 L368.30,261.54 L368.70,261.47 L369.10,261.40 L369.50,261.33 L369.90,261.25 L370.30,261.17 L370.70,261.10 L371.10,261.02 L371.50,260.94 L371.90,260.86 L372.30,260.77 L372.70,260.69 L373.10,260.60 L373.50,260.51 L373.90,260.42 L374.30,260.33 L374.70,260.24 L375.10,260.14 L375.50,260.04 L375.90,259.94 L376.30,259.84 L376.70,259.73 L377.10,259.62 L377.50,259.51 L377.90,259.40 L378.30,259.29 L378.70,259.18 L379.10,259.06 L379.50,258.94 L379.90,258.82 L380.30,258.70 L380.70,258.58 L381.10,258.45 L381.50,258.32 L381.90,258.20 L382.30,258.07 L382.70,257.94 L383.10,257.80 L383.50,257.67 L383.90,257.54 L384.30,257.40 L384.70,257.26 L385.10,257.13 L385.50,256.99 L385.90,256.85 L386.30,256.71 L386.70,256.56 L387.10,256.42 L387.50,256.27 L387.90,256.12 L388.30,255.97 L388.70,255.82 L389.10,255.66 L389.50,255.51 L389.90,255.35 L390.30,255.18 L390.70,255.02 L391.10,254.85 L391.50,254.69 L391.90,254.52 L392.30,254.34 L392.70,254.17 L393.10,254.00 L393.50,253.82 L393.90,253.64 L394.30,253.46 L394.70,253.28 L395.10,253.10 L395.50,252.92 L395.90,252.73 L396.30,252.55 L396.70,252.36 L397.10,252.17 L397.50,251.98 L397.90,251.79 L398.30,251.60 L398.70,251.41 L399.10,251.22 L399.50,251.03 L399.90,250.83 L400.30,250.64 L400.70,250.45 L401.10,250.25 L401.50,250.05 L401.90,249.86 L402.30,249.65 L402.70,249.45 L403.10,249.25 L403.50,249.04 L403.90,248.83 L404.30,248.62 L404.70,248.41 L405.10,248.19 L405.50,247.98 L405.90,247.76 L406.30,247.55 L406.70,247.33 L407.10,247.11 L407.50,246.88 L407.90,246.66 L408.30,246.44 L408.70,246.21 L409.10,245.99 L409.50,245.76 L409.90,245.53 L410.30,245.30 L410.70,245.08 L411.10,244.85 L411.50,244.62 L411.90,244.39 L412.30,244.16 L412.70,243.93 L413.10,243.70 L413.50,243.46 L413.90,243.23 L414.30,243.00 L414.70,242.77 L415.10,242.54 L415.50,242.31 L415.90,242.08 L416.30,241.85 L416.70,241.61 L417.10,241.38 L417.50,241.14 L417.90,240.91 L418.30,240.67 L418.70,240.43 L419.10,240.20 L419.50,239.96 L419.90,239.72 L420.30,239.48 L420.70,239.24 L421.10,239.00 L421.50,238.75 L421.90,238.51 L422.30,238.27 L422.70,238.03 L423.10,237.78 L423.50,237.54 L423.90,237.29 L424.30,237.05 L424.70,236.80 L425.10,236.56 L425.50,236.31 L425.90,236.07 L426.30,235.82 L426.70,235.57 L427.10,235.32 L427.50,235.08 L427.90,234.83 L428.30,234.58 L428.70,234.34 L429.10,234.09 L429.50,233.84 L429.90,233.59 L430.30,233.34 L430.70,233.10 L431.10,232.85 L431.50,232.60 L431.90,232.35 L432.30,232.10 L432.70,231.85 L433.10,231.60 L433.50,231.35 L433.90,231.09 L434.30,230.84 L434.70,230.59 L435.10,230.33 L435.50,230.08 L435.90,229.82 L436.30,229.57 L436.70,229.31 L437.10,229.06 L437.50,228.80 L437.90,228.55 L438.30,228.29 L438.70,228.04 L439.10,227.79 L439.50,227.54 L439.90,227.29 L440.30,227.04 L440.70,226.79 L441.10,226.54 L441.50,226.29 L441.90,226.04 L442.30,225.80 L442.70,225.55 L443.10,225.30 L443.50,225.06 L443.90,224.81 L444.30,224.57 L444.70,224.32 L445.10,224.08 L445.50,223.83 L445.90,223.59 L446.30,223.35 L446.70,223.10 L447.10,222.86 L447.50,222.62 L447.90,222.37 L448.30,222.13 L448.70,221.89 L449.10,221.65 L449.50,221.41 L449.90,221.17 L450.30,220.93 L450.70,220.69 L451.10,220.45 L451.50,220.21 L451.90,219.97 L452.30,219.73 L452.70,219.50 L453.10,219.26" fill="none" stroke="#1d5a93" stroke-width="1.55" stroke-linejoin="round" stroke-linecap="round"/>
<defs><linearGradient id="gb" x1="0" x2="1"><stop offset="0" stop-color="#8a93a0"/><stop offset="1" stop-color="#3d4a5a"/></linearGradient></defs>
<path d="M345.5,265.6 L400,264.6 L453.2,262.4" fill="none" stroke="url(#gb)" stroke-width="1.7"/>
<text x="374.80" y="189.86" font-size="7.4" fill="#3a6fa5" text-anchor="start" font-weight="normal" textLength="12.2" lengthAdjust="spacingAndGlyphs"  stroke="#3a6fa5" stroke-width="0.15">100</text>
<text x="388.10" y="200.66" font-size="7.4" fill="#3a6fa5" text-anchor="start" font-weight="normal" textLength="7.9" lengthAdjust="spacingAndGlyphs"  stroke="#3a6fa5" stroke-width="0.15">50</text>
<text x="398.30" y="213.46" font-size="7.4" fill="#3a6fa5" text-anchor="start" font-weight="normal" textLength="7.9" lengthAdjust="spacingAndGlyphs"  stroke="#3a6fa5" stroke-width="0.15">25</text>
<text x="413.10" y="226.76" font-size="7.4" fill="#3a6fa5" text-anchor="start" font-weight="normal" textLength="7.7" lengthAdjust="spacingAndGlyphs"  stroke="#3a6fa5" stroke-width="0.15">10</text>
<text x="431.10" y="240.16" font-size="7.4" fill="#3a6fa5" text-anchor="start" font-weight="normal" textLength="4.5" lengthAdjust="spacingAndGlyphs"  stroke="#3a6fa5" stroke-width="0.15">0</text>
</g>
<rect x="0" y="0" width="520" height="1.2" fill="#000"/><rect x="0" y="0" width="1.2" height="306" fill="#000"/><rect x="518.7" y="0" width="1.3" height="306" fill="#000"/><rect x="0" y="304.7" width="520" height="1.3" fill="#000"/>
</svg>
</body></html>
